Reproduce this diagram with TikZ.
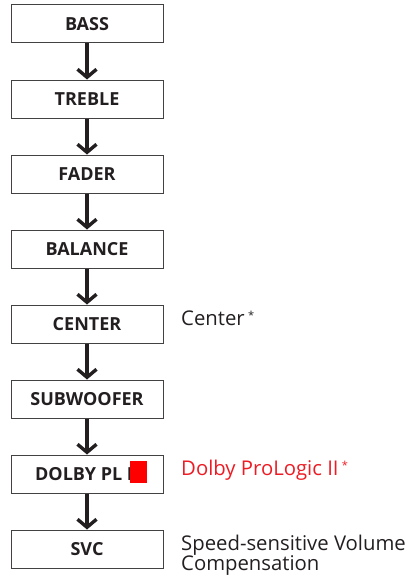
\documentclass[tikz,border=0pt]{standalone}
\usepackage{fontspec}
\setmainfont{Open Sans}
\usetikzlibrary{arrows.meta}
\definecolor{ink}{HTML}{231F20}
\definecolor{redtxt}{HTML}{ED1C24}
\begin{document}
\begin{tikzpicture}[x=1pt,y=-1pt,
  box/.style={draw=ink!85,line width=1pt,minimum width=152pt,minimum height=38pt,inner sep=0pt,font=\bfseries\fontsize{18}{20}\selectfont,text=ink},
  flow/.style={draw=ink,line width=3.6pt,-{Straight Barb[length=8pt,width=19pt,line width=3.4pt]}},
  side/.style={anchor=base west,font=\fontsize{20.3}{22}\selectfont,text=ink,inner sep=0pt}]
\useasboundingbox (0,0) rectangle (415,578);
\node[box] (b1) at (87,24) {BASS};
\node[box] (b2) at (87,99) {TREBLE};
\node[box] (b3) at (87,174) {FADER};
\node[box] (b4) at (87,249) {BALANCE};
\node[box] (b5) at (87,324) {CENTER};
\node[box] (b6) at (87,399) {SUBWOOFER};
\node[box] (b7) at (87,474) {DOLBY PL II};
\node[box] (b8) at (87,549) {SVC};
\foreach \a/\b in {b1/b2,b2/b3,b3/b4,b4/b5,b5/b6,b6/b7,b7/b8}
  \draw[flow] (\a.south) -- (\b.north);
\fill[red] (130,461) rectangle (147,483);
\node[side] (t5) at (181,325) {Center\,\raisebox{6pt}{\fontsize{11}{11}\selectfont *}};
\node[side,text=redtxt] (t7) at (181,475) {Dolby ProLogic II\,\raisebox{6pt}{\fontsize{11}{11}\selectfont *}};
\node[side] (t8a) at (181,550) {Speed-sensitive Volume};
\node[side] (t8b) at (181,570) {Compensation};
\end{tikzpicture}
\end{document}
